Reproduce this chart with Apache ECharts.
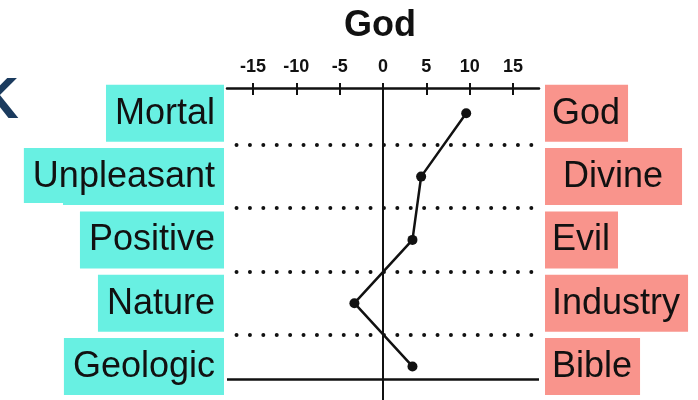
<!DOCTYPE html>
<html>
<head>
<meta charset="utf-8">
<title>God</title>
<script src="https://cdn.jsdelivr.net/npm/echarts@6/dist/echarts.min.js"></script>
<style>
  html, body { margin: 0; padding: 0; background: #fff; }
  #chart { width: 698px; height: 400px; }
</style>
</head>
<body>
<div id="chart"></div>
<script>
// 좌측 / 우측 단어 (위에서 아래로)
var leftWords = ['Mortal', 'Unpleasant', 'Positive', 'Nature', 'Geologic'];
var rightWords = ['God', 'Divine', 'Evil', 'Industry', 'Bible'];
// 각 행의 값
var scores = [9.6, 4.4, 3.4, -3.3, 3.4];
var tickValues = [-15, -10, -5, 0, 5, 10, 15];
var rowIndex = [0, 1, 2, 3, 4];
var dividers = [0.5, 1.5, 2.5, 3.5];

var FONT = '"Liberation Sans", Arial, Helvetica, sans-serif';
var INK = '#111';

var chart = echarts.init(document.getElementById('chart'));

var points = scores.map(function (v, i) { return [v, rowIndex[i]]; });

// 점선 구분선
var markData = dividers.map(function (y) {
	return [{ coord: [-16.9, y], lineStyle: { type: [0, 13.4], cap: 'round', width: 4 } },
	        { coord: [17.2, y] }];
});
markData.push({ xAxis: 0, lineStyle: { width: 2, type: 'solid' } });
markData.push({ yAxis: 4.2, lineStyle: { width: 2.5, type: 'solid' } });

function topAxis(inside) {
	return {
		type: 'value',
		position: 'top',
		min: -18,
		max: 18,
		axisLine: { show: !inside, onZero: false, lineStyle: { color: INK, width: 2.5 } },
		axisTick: {
			show: true,
			inside: inside,
			length: inside ? 7 : 5,
			customValues: tickValues,
			lineStyle: { color: INK, width: 2 }
		},
		axisLabel: {
			show: !inside,
			customValues: tickValues,
			margin: 12,
			color: INK,
			fontFamily: FONT,
			fontWeight: 'bold',
			fontSize: 18
		},
		splitLine: { show: false }
	};
}

function box(color, pad) {
	return { backgroundColor: color, color: INK, fontFamily: FONT, fontSize: 36, height: 40, padding: pad };
}

function wordAxis(pos, words) {
	var left = pos === 'left';
	return {
		type: 'value',
		position: pos,
		inverse: true,
		min: -0.4,
		max: 4.53,
		axisLine: { show: false, onZero: false },
		axisTick: { show: false },
		splitLine: { show: false },
		axisLabel: {
			customValues: rowIndex,
			margin: left ? 3 : 6,
			formatter: function (v) {
				var w = words[v];
				if (left) return '{l|' + w + '}';
				return w === 'Divine' ? '{rw|' + w + '}' : '{r|' + w + '}';
			},
			rich: {
				l: box('#68F0E2', [9, 9, 8, 9]),
				r: box('#F9948C', [9, 8, 8, 7]),
				rw: box('#F9948C', [9, 19, 8, 18])
			}
		}
	};
}

chart.setOption({
	animation: false,
	title: {
		text: 'God',
		left: 344,
		top: 8,
		padding: 0,
		textStyle: { fontFamily: FONT, fontWeight: 'bold', fontSize: 36, color: INK }
	},
	grid: { left: 227, right: 159, top: 88, bottom: 0, containLabel: false },
	xAxis: [topAxis(false), topAxis(true)],
	yAxis: [wordAxis('left', leftWords), wordAxis('right', rightWords)],
	graphic: [
		// 좌상단에 잘려 보이는 글자
		{ type: 'text', left: -23, top: 73, z: 10,
		  style: { text: 'K', fill: '#1B3B5E', font: 'bold 58px ' + FONT } },
		// Unpleasant 상자 아래쪽 흰 조각
		{ type: 'rect', shape: { x: 20, y: 203, width: 43, height: 8 }, z: 10,
		  style: { fill: '#fff' } }
	],
	series: [{
		type: 'line',
		xAxisIndex: 0,
		yAxisIndex: 0,
		data: points,
		symbol: 'circle',
		symbolSize: 10,
		clip: false,
		itemStyle: { color: INK },
		lineStyle: { color: INK, width: 2.5 },
		markLine: {
			silent: true,
			symbol: ['none', 'none'],
			label: { show: false },
			lineStyle: { color: INK },
			data: markData
		}
	}]
});
</script>
</body>
</html>
